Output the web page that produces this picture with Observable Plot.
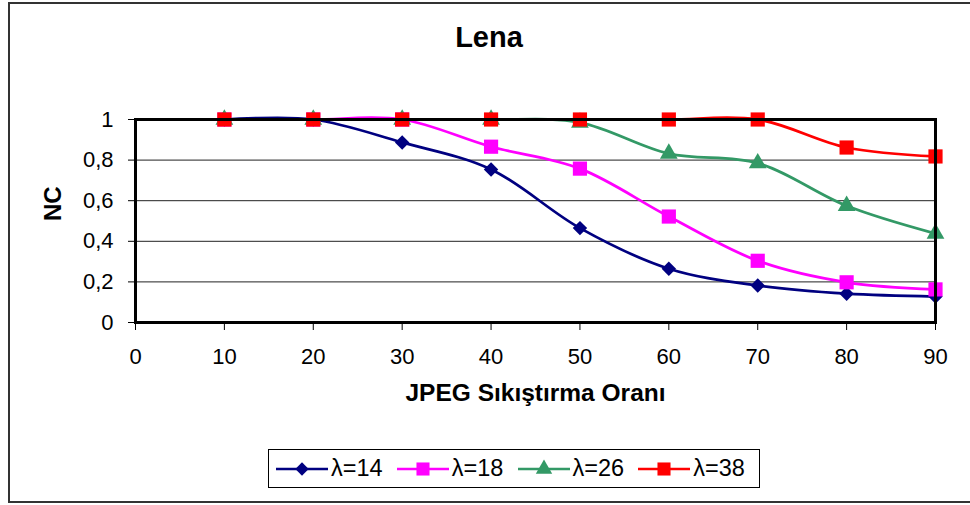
<!DOCTYPE html>
<html>
<head>
<meta charset="utf-8">
<script src="https://cdn.jsdelivr.net/npm/d3@7"></script>
<script src="https://cdn.jsdelivr.net/npm/@observablehq/plot@0.6"></script>
<style>
  body { margin: 0; background: #fff; font-family: "Liberation Sans", Arial, sans-serif; }
  #wrap { position: relative; width: 970px; height: 505px; overflow: hidden; background: #fff; }
  #border { position: absolute; left: 8px; top: 2px; width: 1000px; height: 501px; border: 2px solid #333; box-sizing: border-box; }
  #title { position: absolute; left: 8px; width: 962px; top: 23px; text-align: center; font-weight: bold; font-size: 29px; line-height: 28px; color: #000; }
  #chart { position: absolute; left: 0; top: 0; }
  #legend { position: absolute; left: 268px; top: 449px; width: 492px; height: 39px; border: 1px solid #000; box-sizing: border-box; display: flex; align-items: center; padding-left: 7px; background: #fff; }
  .item { display: flex; align-items: center; width: 121px; font-size: 23.5px; color: #000; }
  .item svg { margin-right: 3px; }
</style>
</head>
<body>
<div id="wrap">
  <div id="border"></div>
  <div id="chart"></div>
  <div id="title"></div>
  <div id="legend"></div>
</div>
<script>
const titleText = "Lena";
const xLabel = "JPEG Sıkıştırma Oranı";
const yLabel = "NC";
const xValues = [10, 20, 30, 40, 50, 60, 70, 80, 90];
const nc14 = [1, 1, 0.887, 0.754, 0.465, 0.265, 0.182, 0.142, 0.128];
const nc18 = [1, 1, 1, 0.866, 0.758, 0.522, 0.304, 0.198, 0.163];
const nc26 = [1, 1, 1, 1, 0.985, 0.832, 0.785, 0.575, 0.438];
const nc38 = [1, 1, 1, 1, 1, 1, 1, 0.862, 0.818];
const seriesNames = ["λ=14", "λ=18", "λ=26", "λ=38"];
const seriesValues = [nc14, nc18, nc26, nc38];
const seriesColors = ["#000080", "#FF00FF", "#339966", "#FF0000"];
const seriesSymbols = ["diamond2", "square", "triangle", "square"];
const seriesRadius = [6.5, 8, 6.6, 8];
const xTicks = [0, 10, 20, 30, 40, 50, 60, 70, 80, 90];
const yTicks = [0, 0.2, 0.4, 0.6, 0.8, 1];

const rows = seriesNames.flatMap((name, i) =>
  xValues.map((x, j) => ({ series: name, x, y: seriesValues[i][j] })));

const seriesMarks = seriesNames.flatMap((name, i) => {
  const data = rows.filter(d => d.series === name);
  return [
    Plot.line(data, { x: "x", y: "y", stroke: seriesColors[i], strokeWidth: 2.75, curve: "catmull-rom" }),
    Plot.dot(data, { x: "x", y: "y", symbol: () => seriesSymbols[i], r: seriesRadius[i], fill: seriesColors[i], stroke: "none" })
  ];
});

const chart = Plot.plot({
  width: 970,
  height: 505,
  marginLeft: 135,
  marginRight: 35,
  marginTop: 119,
  marginBottom: 183,
  style: { fontFamily: "'Liberation Sans', Arial, sans-serif", fontSize: "22px", color: "#000", background: "transparent", overflow: "visible" },
  x: { domain: [0, 90], ticks: xTicks, tickSize: 8, tickPadding: 18, label: null },
  y: { domain: [0, 1], ticks: yTicks, tickSize: 7, tickPadding: 15, label: null,
       tickFormat: d => String(d).replace(".", ",") },
  symbol: { type: "identity" },
  marks: [
    Plot.ruleY(yTicks.filter(d => d > 0 && d < 1), { stroke: "#222", strokeWidth: 1 }),
    ...seriesMarks,
    Plot.frame({ stroke: "#000", strokeWidth: 3 }),
    Plot.text([xLabel], { frameAnchor: "bottom", dy: 78, fontSize: 24.5, fontWeight: "bold", fill: "#000" }),
    Plot.text([yLabel], { frameAnchor: "left", dx: -82, rotate: -90, fontSize: 24, fontWeight: "bold", fill: "#000" })
  ]
});
document.getElementById("chart").appendChild(chart);
document.getElementById("title").textContent = titleText;

const symbolTypes = { diamond2: d3.symbolDiamond2, square: d3.symbolSquare, triangle: d3.symbolTriangle };
const legend = document.getElementById("legend");
seriesNames.forEach((name, i) => {
  const item = document.createElement("div");
  item.className = "item";
  const svg = d3.create("svg").attr("width", 52).attr("height", 20);
  svg.append("line").attr("x1", 0).attr("x2", 52).attr("y1", 10).attr("y2", 10)
    .attr("stroke", seriesColors[i]).attr("stroke-width", 2.5);
  svg.append("path")
    .attr("transform", "translate(26,10)")
    .attr("d", d3.symbol(symbolTypes[seriesSymbols[i]], seriesRadius[i] * seriesRadius[i] * Math.PI * 0.85)())
    .attr("fill", seriesColors[i]);
  item.appendChild(svg.node());
  const label = document.createElement("span");
  label.textContent = name;
  item.appendChild(label);
  legend.appendChild(item);
});
</script>
</body>
</html>
